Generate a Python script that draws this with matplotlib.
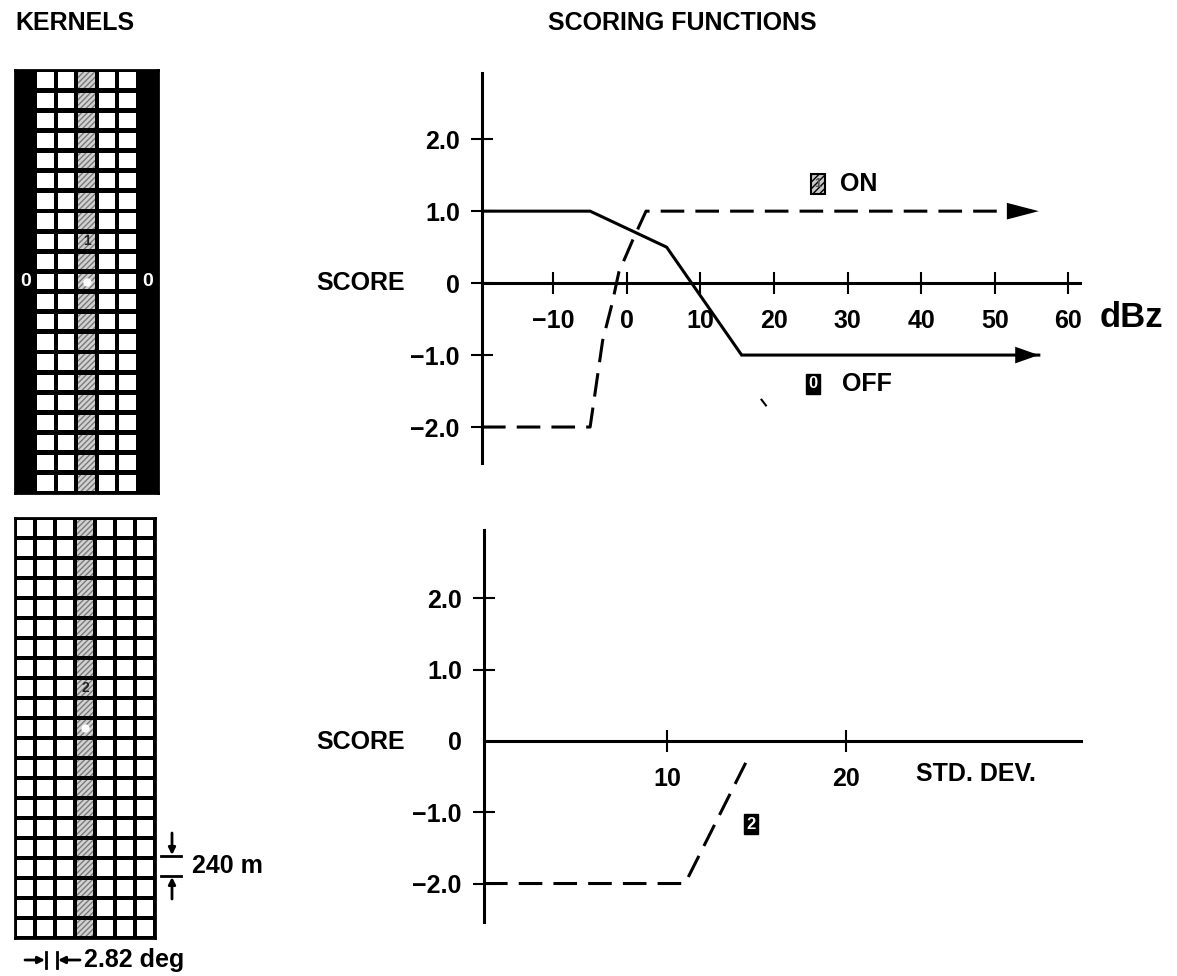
import numpy as np
import matplotlib
matplotlib.use("Agg")
import matplotlib.pyplot as plt
from matplotlib.patches import Rectangle

plt.rcParams['font.family'] = ['Liberation Sans', 'DejaVu Sans']
plt.rcParams['font.weight'] = 'bold'
plt.rcParams['lines.scale_dashes'] = False

# ---- data ----
score_ticks = [-2.0, -1.0, 0.0, 1.0, 2.0]
score_labels = ['\u22122.0', '\u22121.0', '0', '1.0', '2.0']

dbz_ticks = [-10, 0, 10, 20, 30, 40, 50, 60]
dbz_labels = ['\u221210', '0', '10', '20', '30', '40', '50', '60']

# reflectivity scoring: kernel "1" (ON, dashed) and kernel "0" (OFF, solid)
on_dbz = [-19.7, -5.0, -3.3, -2.0, -1.1, 0.8, 2.6, 56.0]
on_score = [-2.0, -2.0, -0.8, -0.28, 0.15, 0.6, 1.0, 1.0]
off_dbz = [-19.7, -5.0, 5.4, 15.6, 56.0]
off_score = [1.0, 1.0, 0.5, -1.0, -1.0]

# standard deviation scoring: kernel "2"
sd_ticks = [10, 20]
sd_labels = ['10', '20']
sd_x = [-0.22, 11.0, 14.6]
sd_score = [-2.0, -2.0, -0.2]

# kernel layouts (7 columns x 21 rows)
kernel_rows = 21
top_cols = ['off', 'cell', 'cell', 'on', 'cell', 'cell', 'off']
bot_cols = ['cell', 'cell', 'cell', 'on', 'cell', 'cell', 'cell']

W, H = 1177, 976
fig = plt.figure(figsize=(W / 100, H / 100), dpi=100)


def frame(l, t, r, b):
    return [l / W, 1 - b / H, (r - l) / W, (b - t) / H]


# overlay in pixel coordinates for titles and notes
ov = fig.add_axes([0, 0, 1, 1])
ov.set_xlim(0, W)
ov.set_ylim(H, 0)
ov.axis('off')

ov.text(15, 23, 'KERNELS', fontsize=18, ha='left', va='center')
ov.text(682, 23, 'SCORING FUNCTIONS', fontsize=18, ha='center', va='center')
ov.text(361, 283, 'SCORE', fontsize=18, ha='center', va='center')
ov.text(361, 742, 'SCORE', fontsize=18, ha='center', va='center')
ov.text(1100, 327, 'dBz', fontsize=25, ha='left', va='baseline')
ov.text(916, 774, 'STD. DEV.', fontsize=18, ha='left', va='center')

# 240 m and 2.82 deg dimension marks
ov.annotate('', xy=(172, 855), xytext=(172, 833),
            arrowprops=dict(arrowstyle='-|>', lw=2, color='black', shrinkA=0, shrinkB=0))
ov.annotate('', xy=(172, 877), xytext=(172, 899),
            arrowprops=dict(arrowstyle='-|>', lw=2, color='black', shrinkA=0, shrinkB=0))
ov.plot([161, 181], [856, 856], color='black', lw=2)
ov.plot([161, 181], [876, 876], color='black', lw=2)
ov.text(192, 866, '240 m', fontsize=18, ha='left', va='center')

ov.annotate('', xy=(45, 960), xytext=(25, 960),
            arrowprops=dict(arrowstyle='-|>', lw=2, color='black', shrinkA=0, shrinkB=0))
ov.plot([46, 46], [952, 968], color='black', lw=2)
ov.plot([57, 57], [952, 968], color='black', lw=2)
ov.annotate('', xy=(58, 960), xytext=(80, 960),
            arrowprops=dict(arrowstyle='-|>', lw=2, color='black', shrinkA=0, shrinkB=0))
ov.text(84, 960, '2.82 deg', fontsize=18, ha='left', va='center')


def draw_kernel(rect, cols, mark, side_zero):
    ax = fig.add_axes(rect)
    ax.set_xlim(0, len(cols))
    ax.set_ylim(kernel_rows, 0)
    ax.set_facecolor('black')
    ax.set_xticks([])
    ax.set_yticks([])
    for s in ax.spines.values():
        s.set_linewidth(2)
    for r in range(kernel_rows):
        for c, kind in enumerate(cols):
            if kind == 'cell':
                ax.add_patch(Rectangle((c + 0.1, r + 0.12), 0.8, 0.76,
                                       fc='white', ec='none'))
            elif kind == 'on':
                ax.add_patch(Rectangle((c + 0.1, r + 0.12), 0.8, 0.76,
                                       fc='#d2d2d2', ec='#7a7a7a', lw=0,
                                       hatch='//////'))
    mid = kernel_rows // 2
    ax.text(3.5, mark[0] + 0.5, mark[1], fontsize=10, ha='center', va='center',
            color='#222222')
    ax.plot([3.5], [mid + 0.5], 'o', ms=6, color='white', mec='none')
    if side_zero:
        for c, kind in enumerate(cols):
            if kind == 'off':
                ax.text(c + 0.5, mid + 0.5, '0', fontsize=14, color='white',
                        ha='center', va='center')


draw_kernel(frame(15, 70, 158, 493), top_cols, (8, '1'), True)
draw_kernel(frame(15, 518, 155, 938), bot_cols, (8, '2'), False)


def style_axes(ax):
    for side in ('top', 'right'):
        ax.spines[side].set_visible(False)
    ax.spines['bottom'].set_position(('data', 0))
    ax.spines['left'].set_linewidth(2.2)
    ax.spines['bottom'].set_linewidth(2.2)
    ax.patch.set_alpha(0)
    ax.tick_params(direction='inout', length=16, width=1.5, labelsize=18)
    ax.tick_params(axis='y', pad=8)
    ax.tick_params(axis='x', pad=11)


def arrow_head(ax, x, y, length):
    ax.annotate('', xy=(x[-1], y[-1]), xytext=(x[-1] - 4, y[-1]),
                arrowprops=dict(arrowstyle='-|>,head_length=%s,head_width=0.3' % length,
                                mutation_scale=20, lw=0, fc='black', ec='black',
                                shrinkA=0, shrinkB=0))


# ---- top: reflectivity ----
ax1 = fig.add_axes(frame(482, 73, 1080, 463))
ax1.set_xlim(-19.7, 61.6)
ax1.set_ylim(-2.5, 2.92)
style_axes(ax1)
ax1.set_xticks(dbz_ticks)
ax1.set_xticklabels(dbz_labels)
ax1.set_yticks(score_ticks)
ax1.set_yticklabels(score_labels)

ax1.plot(off_dbz, off_score, color='black', lw=2.2, solid_joinstyle='miter')
ax1.plot(on_dbz, on_score, color='black', lw=2.2, dashes=(17, 8))
arrow_head(ax1, off_dbz, off_score, 0.85)
arrow_head(ax1, on_dbz, on_score, 1.15)
ax1.plot([18.3, 18.9], [-1.62, -1.7], color='black', lw=1.5)

ax1.text(26.0, 1.375, '1', fontsize=9, color='#555555', ha='center', va='center',
         bbox=dict(boxstyle='square,pad=0.3', fc='#c8c8c8', ec='black', lw=1.5,
                   hatch='/////'))
ax1.text(29.0, 1.375, 'ON', fontsize=18, ha='left', va='center')
ax1.text(25.3, -1.4, '0', fontsize=12, color='white', ha='center', va='center',
         bbox=dict(boxstyle='square,pad=0.15', fc='black', ec='black'))
ax1.text(29.2, -1.4, 'OFF', fontsize=18, ha='left', va='center')

# ---- bottom: standard deviation ----
ax2 = fig.add_axes(frame(484, 530, 1081, 922))
ax2.set_xlim(-0.22, 33.1)
ax2.set_ylim(-2.54, 2.96)
style_axes(ax2)
ax2.set_xticks(sd_ticks)
ax2.set_xticklabels(sd_labels)
ax2.set_yticks(score_ticks)
ax2.set_yticklabels(score_labels)
ax2.yaxis.get_major_ticks()[2].tick1line.set_visible(False)

ax2.plot(sd_x, sd_score, color='black', lw=2.2, dashes=(17, 8))
ax2.text(14.7, -1.17, '2', fontsize=12, color='white', ha='center', va='center',
         bbox=dict(boxstyle='square,pad=0.15', fc='black', ec='black'))

fig.savefig('out.png', dpi=100)
